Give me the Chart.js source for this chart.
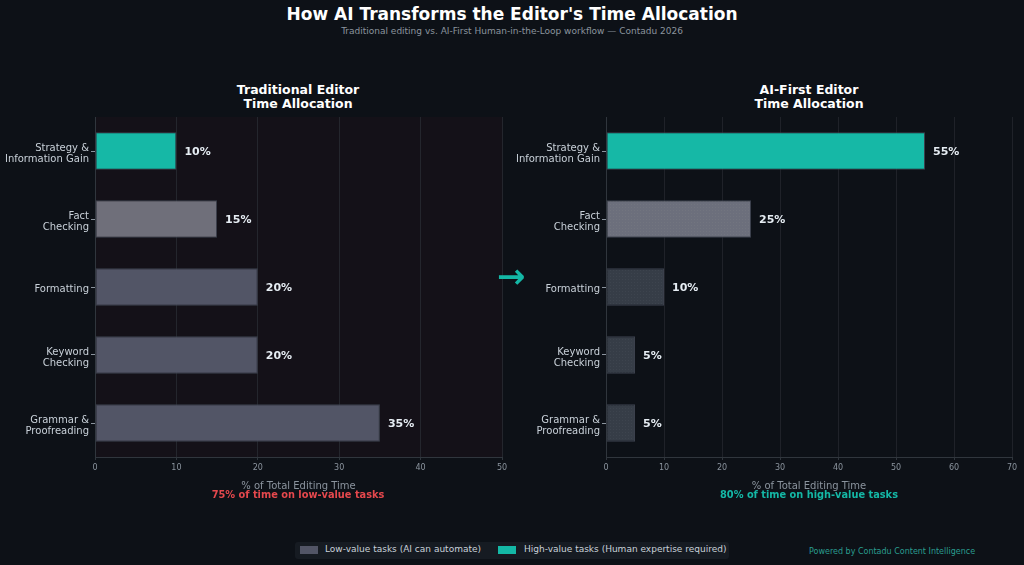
<!DOCTYPE html>
<html><head><meta charset="utf-8">
<script src="https://cdn.jsdelivr.net/npm/chart.js@4/dist/chart.umd.min.js"></script>
<style>
html,body{margin:0;padding:0}
body{background:#0d1117;width:1024px;height:565px;overflow:hidden;position:relative;font-family:"DejaVu Sans",sans-serif}
.abs{position:absolute;white-space:nowrap}
#title{left:0;width:1024px;top:4px;text-align:center;color:#fff;font-weight:bold;font-size:17px}
#sub{left:0;width:1024px;top:26px;text-align:center;color:#8b949e;font-size:9px}
.ptitle{color:#fff;font-weight:bold;font-size:12.5px;text-align:center;line-height:14px;top:83px;width:300px}
.note{font-weight:bold;font-size:9.8px;text-align:center;width:300px;top:489px}
canvas{position:absolute}
#arrow{left:497px;top:256px;color:#14b8a6;font-size:34px;font-weight:bold}
#legend{left:295px;top:542px;width:434px;height:17px;background:#161b22;border-radius:3px;font-size:9px;color:#c9d1d9}
.sw{position:absolute;top:4px;width:18px;height:8px}
.lt{position:absolute;top:2px}
#footer{left:809px;top:547px;color:#2a9d8f;font-size:8px}
</style></head>
<body>
<div class="abs" id="title">How AI Transforms the Editor's Time Allocation</div>
<div class="abs" id="sub">Traditional editing vs. AI-First Human-in-the-Loop workflow — Contadu 2026</div>
<div class="abs ptitle" style="left:148px">Traditional Editor<br>Time Allocation</div>
<div class="abs ptitle" style="left:659px">AI-First Editor<br>Time Allocation</div>
<canvas id="c1" width="520" height="400" style="left:0;top:110px"></canvas>
<canvas id="c2" width="514" height="400" style="left:510px;top:110px"></canvas>
<div class="abs" id="arrow">→</div>
<div class="abs note" style="left:148px;color:#e5484d">75% of time on low-value tasks</div>
<div class="abs note" style="left:659px;color:#14b8a6">80% of time on high-value tasks</div>
<div class="abs" id="legend">
  <div class="sw" style="left:5px;background:#525566"></div><div class="lt" style="left:30px">Low-value tasks (AI can automate)</div>
  <div class="sw" style="left:203px;background:#14b8a6"></div><div class="lt" style="left:229px">High-value tasks (Human expertise required)</div>
</div>
<div class="abs" id="footer">Powered by Contadu Content Intelligence</div>
<script>
const categories = [["Strategy &","Information Gain"],["Fact","Checking"],"Formatting",["Keyword","Checking"],["Grammar &","Proofreading"]];
const traditionalValues = [10,15,20,20,35];
const aiFirstValues = [55,25,10,5,5];
const leftTicksMax = 50;
const rightTicksMax = 70;
const xAxisTitle = "% of Total Editing Time";

Chart.defaults.font.family = '"DejaVu Sans", sans-serif';

function dotPattern(base, dot){
  const c = document.createElement('canvas'); c.width = 3; c.height = 3;
  const x = c.getContext('2d');
  x.fillStyle = base; x.fillRect(0,0,3,3);
  x.fillStyle = dot; x.fillRect(1,1,1,1);
  return x.createPattern(c,'repeat');
}
const TEAL = '#16b8a6';
const leftColors = [TEAL,'#6f6f7a','#525566','#525566','#525566'];
const rightColors = [TEAL, dotPattern('#6c6f7c','#72757f'), dotPattern('#363d47','#3d444e'), dotPattern('#363d47','#3d444e'), dotPattern('#363d47','#3d444e')];

const valueLabels = {
  id:'valueLabels',
  afterDatasetsDraw(chart){
    const ctx = chart.ctx;
    const meta = chart.getDatasetMeta(0);
    ctx.save();
    ctx.font = 'bold 11px "DejaVu Sans"';
    ctx.fillStyle = '#e6edf3';
    ctx.textAlign = 'left'; ctx.textBaseline = 'middle';
    meta.data.forEach((bar,i)=>{
      ctx.fillText(chart.data.datasets[0].data[i] + '%', bar.x + 8, bar.y + 1);
    });
    ctx.restore();
  }
};
const areaBg = {
  id:'areaBg',
  beforeDraw(chart, args, opts){
    if(!opts.color) return;
    const a = chart.chartArea, ctx = chart.ctx;
    ctx.save(); ctx.fillStyle = opts.color; ctx.fillRect(a.left, a.top, a.right-a.left, a.bottom-a.top); ctx.restore();
  }
};

function makeChart(id, values, colors, max, yWidth, padRight, bg, gridColor){
  return new Chart(document.getElementById(id), {
    type:'bar',
    data:{labels:categories, datasets:[{data:values, backgroundColor:colors, borderColor:'#3b404c', borderWidth:1, borderSkipped:false, barPercentage:0.55, categoryPercentage:1}]},
    options:{
      indexAxis:'y', responsive:false, animation:false, devicePixelRatio:1,
      layout:{padding:{top:7,right:padRight,bottom:0,left:0}},
      plugins:{legend:{display:false}, tooltip:{enabled:false}, title:{display:false}, areaBg:{color:bg}},
      scales:{
        x:{min:0,max:max,
          ticks:{stepSize:10,color:'#8b949e',font:{size:8},padding:3},
          grid:{color:gridColor,lineWidth:1,tickLength:3,tickColor:'#30363d'},
          border:{color:'#30363d'},
          title:{display:true,text:xAxisTitle,color:'#8b949e',font:{size:10},padding:{top:0,bottom:18}},
          afterFit(s){ s.height = 53; s.paddingLeft = 0; s.paddingRight = 0; }
        },
        y:{
          ticks:{color:'#c9d1d9',font:{size:10,lineHeight:1.1},padding:2,labelOffset:2.5},
          grid:{display:true,offset:false,drawOnChartArea:false,tickLength:4,tickColor:'#8b949e'},
          border:{color:'#30363d'},
          afterFit(s){ s.width = yWidth; s.paddingTop = 0; s.paddingBottom = 0; }
        }
      }
    },
    plugins:[valueLabels, areaBg]
  });
}
makeChart('c1', traditionalValues, leftColors, leftTicksMax, 95, 18, '#141118', '#24262d');
makeChart('c2', aiFirstValues, rightColors, rightTicksMax, 96, 12, null, '#1f2229');
</script>
</body></html>
